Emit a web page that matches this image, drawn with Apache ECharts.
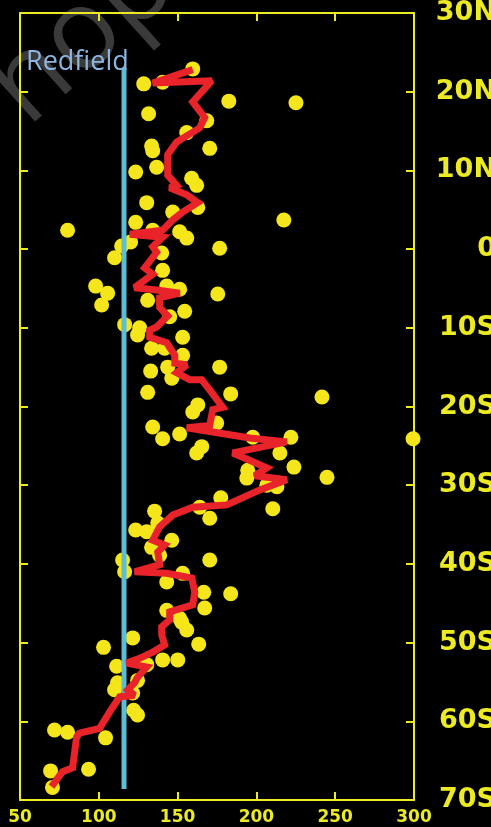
<!DOCTYPE html>
<html><head><meta charset="utf-8">
<script src="https://cdn.jsdelivr.net/npm/echarts@6/dist/echarts.min.js"></script>
<style>html,body{margin:0;padding:0;background:#000;}#c{width:491px;height:827px;}</style>
</head><body><div id="c"></div>
<script>
// ---- data ----
const xTicks = [50, 100, 150, 200, 250, 300];
const yTickValues = [-70, -60, -50, -40, -30, -20, -10, 0, 10, 20, 30];
const yTickLabels = ['70S', '60S', '50S', '40S', '30S', '20S', '10S', '0', '10N', '20N', '30N'];

const dotX = [159.6,140.5,128.5,182.5,225.1,131.6,168.5,155.8,170.4,134.2,133.5,136.7,123.4,158.9,162.1,130.4,162.8,146.9,123.4,80.2,217.4,134.2,151.3,155.8,120.2,114.5,176.7,139.9,110.0,140.5,98.0,105.6,101.8,151.3,175.5,131.0,143.1,154.5,145.0,116.4,125.9,124.6,153.2,133.5,141.8,153.2,176.7,132.9,143.7,146.3,131.0,183.7,241.6,162.8,159.6,174.8,134.2,140.5,151.3,165.3,162.1,197.7,221.9,214.9,223.8,244.8,299.4,194.5,193.9,213.0,206.6,177.4,164.0,210.4,170.4,135.4,123.4,130.4,137.4,146.3,133.5,138.6,170.4,115.1,116.4,143.1,153.2,166.6,183.7,167.2,143.1,151.3,152.6,155.8,163.4,121.5,103.0,111.3,140.5,150.1,130.4,124.6,111.9,110.0,121.5,122.1,124.6,71.9,80.2,104.3,69.4,93.5,70.6];
const dotLat = [22.9,21.2,21.0,18.8,18.6,17.2,16.3,14.8,12.8,12.5,13.1,10.4,9.8,9.0,8.1,5.9,5.3,4.7,3.4,2.4,3.7,2.4,2.2,1.4,0.9,0.4,0.1,-0.5,-1.1,-2.7,-4.7,-5.6,-7.1,-5.1,-5.7,-6.5,-4.7,-7.9,-8.6,-9.6,-10.0,-10.9,-11.2,-12.6,-12.6,-13.5,-15.0,-15.5,-15.0,-16.4,-18.2,-18.4,-18.8,-19.8,-20.7,-22.1,-22.6,-24.1,-23.5,-25.1,-25.9,-23.9,-23.9,-25.9,-27.7,-29.0,-24.1,-28.1,-29.1,-30.2,-30.0,-31.6,-32.8,-33.0,-34.2,-33.3,-35.7,-35.9,-34.8,-37.0,-37.9,-38.9,-39.5,-39.5,-41.0,-42.3,-41.2,-43.6,-43.8,-45.6,-45.9,-46.9,-47.4,-48.4,-50.2,-49.4,-50.6,-53.0,-52.2,-52.2,-52.8,-54.8,-55.1,-56.0,-56.4,-58.6,-59.2,-61.1,-61.4,-62.1,-66.3,-66.1,-68.4];

const meanX = [159.6,134.2,171.7,159.6,167.2,164.0,149.4,143.7,143.7,149.4,145.0,155.8,162.8,153.2,146.9,140.5,119.6,140.5,134.2,136.7,129.1,134.2,122.7,136.7,151.3,138.6,138.6,143.7,136.7,132.3,132.3,143.1,148.2,148.2,155.8,149.4,157.7,165.3,170.4,178.7,172.3,170.4,155.8,195.8,219.3,185.0,206.6,199.0,219.3,202.2,181.2,159.6,146.9,138.6,134.2,141.8,137.4,138.6,122.7,143.1,159.0,160.9,159.6,145.0,145.0,139.9,139.9,141.8,134.2,125.9,117.7,130.4,124.6,122.7,118.3,122.7,113.2,106.9,100.5,87.8,85.9,83.4,77.0,70.0];
const meanLat = [22.8,21.1,21.4,18.7,16.7,15.4,13.6,12.0,9.4,8.1,7.8,6.9,5.9,4.7,3.7,2.4,1.9,1.5,0.3,-0.4,-2.4,-3.2,-4.9,-5.2,-5.6,-6.2,-7.4,-8.5,-9.9,-10.3,-11.2,-11.9,-13.5,-14.5,-14.7,-15.7,-16.6,-16.6,-17.9,-20.1,-20.4,-22.4,-22.7,-24.0,-24.5,-25.9,-27.8,-28.8,-29.3,-30.6,-32.5,-32.8,-33.8,-35.3,-37.0,-37.6,-38.5,-40.1,-41.0,-41.2,-41.8,-43.6,-45.2,-46.1,-47.1,-48.0,-49.0,-50.3,-51.2,-52.0,-52.6,-53.1,-54.4,-55.1,-56.0,-56.7,-56.9,-58.8,-60.9,-61.5,-62.0,-65.9,-66.4,-68.3];

const redfieldX = [116, 116];
const redfieldLat = [23, -68.6];
const redfieldLabel = 'Redfield';
const watermarkText = 'hop';

// ---- chart ----
const YEL = '#ecea22';
const chart = echarts.init(document.getElementById('c'), null, {renderer: 'canvas'});

const axisCommon = {
  type: 'value',
  axisLine: {show: true, onZero: false, lineStyle: {color: YEL, width: 2}},
  axisTick: {show: true, inside: true, length: 8, lineStyle: {color: YEL, width: 2}},
  splitLine: {show: false}
};

chart.setOption({
  backgroundColor: '#000',
  animation: false,
  grid: {left: 20, right: 77, top: 13, bottom: 27, containLabel: false, outerBoundsMode: 'none'},
  xAxis: [
    Object.assign({}, axisCommon, {
      position: 'bottom', min: xTicks[0], max: xTicks[xTicks.length - 1], interval: 50,
      axisLabel: {color: YEL, fontSize: 17, fontWeight: 'bold', fontFamily: 'DejaVu Sans', margin: 9,
        formatter: v => String(xTicks[xTicks.indexOf(v)])}
    }),
    Object.assign({}, axisCommon, {
      position: 'top', min: xTicks[0], max: xTicks[xTicks.length - 1], interval: 50,
      axisLabel: {show: false}
    })
  ],
  yAxis: [
    Object.assign({}, axisCommon, {
      position: 'right', min: yTickValues[0], max: yTickValues[yTickValues.length - 1], interval: 10,
      axisLabel: {color: YEL, fontSize: 27, fontWeight: 'bold', fontFamily: 'DejaVu Sans', align: 'right', margin: 82,
        formatter: v => yTickLabels[yTickValues.indexOf(v)]}
    }),
    Object.assign({}, axisCommon, {
      position: 'left', min: yTickValues[0], max: yTickValues[yTickValues.length - 1], interval: 10,
      axisLabel: {show: false}
    })
  ],
  graphic: [
    {type: 'text', x: 44, y: 146, rotation: 42 * Math.PI / 180, z: 0,
      style: {text: watermarkText, fontSize: 112, fontFamily: 'Open Sans', fill: '#3a3a3a', textVerticalAlign: 'bottom'}},
    {type: 'text', x: 26, y: 49, z: 100,
      style: {text: redfieldLabel, fontSize: 27, fontFamily: 'Open Sans', fill: '#8db5e2'}}
  ],
  series: [
    {type: 'scatter', xAxisIndex: 0, yAxisIndex: 0, symbolSize: 15, clip: false, z: 2,
      itemStyle: {color: '#f4e61a', opacity: 1},
      data: dotX.map((x, i) => [x, dotLat[i]])},
    {type: 'line', xAxisIndex: 0, yAxisIndex: 0, showSymbol: false, symbol: 'none', z: 3,
      lineStyle: {color: '#5bbdd6', width: 5},
      data: redfieldX.map((x, i) => [x, redfieldLat[i]])},
    {type: 'line', xAxisIndex: 0, yAxisIndex: 0, showSymbol: false, symbol: 'none', z: 4,
      lineStyle: {color: '#e8232a', width: 7, join: 'miter', miterLimit: 2.5},
      data: meanX.map((x, i) => [x, meanLat[i]])}
  ]
});
</script></body></html>
